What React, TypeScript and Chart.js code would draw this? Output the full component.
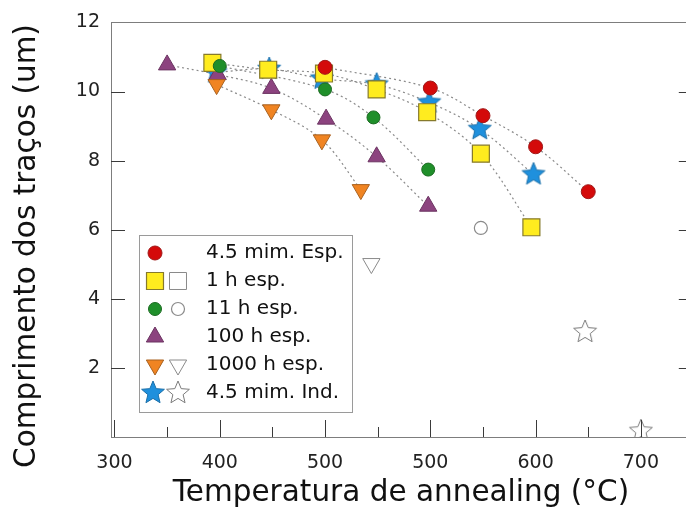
import React, { useEffect, useRef } from 'react';
import { Chart, registerables } from 'chart.js';
import { drawPoint } from 'chart.js/helpers';

Chart.register(...registerables);

const FONT = "'DejaVu Sans', 'Liberation Sans', sans-serif";

// ---- axis / tick labels ----
const X_TICK_VALUES = [300, 400, 500, 600, 700, 800];
const X_TICK_LABELS = ['300', '400', '500', '500', '600', '700'];
const X_MINOR_TICKS = [350, 450, 550, 650, 750];
const Y_TICK_VALUES = [2, 4, 6, 8, 10, 12];
const X_TITLE = 'Temperatura de annealing (°C)';
const Y_TITLE = 'Comprimento dos traços (um)';

// ---- legend labels ----
const LEGEND_LABELS = ['4.5 mim. Esp.', '1 h esp.', '11 h esp.', '100 h esp.', '1000 h esp.', '4.5 mim. Ind.'];

// ---- series data ----
const RED_X = [500, 600, 650, 700, 750];
const RED_Y = [10.7, 10.1, 9.3, 8.4, 7.1];

const YELLOW_X = [393, 446, 499, 549, 597, 648, 696];
const YELLOW_Y = [10.83, 10.63, 10.52, 10.06, 9.4, 8.2, 6.07];

const GREEN_X = [400, 500, 546, 598];
const GREEN_Y = [10.74, 10.06, 9.25, 7.74];
const GREEN_OPEN_X = [648];
const GREEN_OPEN_Y = [6.05];

const PURPLE_X = [350, 398, 449, 501, 549, 598];
const PURPLE_Y = [10.77, 10.49, 10.09, 9.2, 8.11, 6.68];

const ORANGE_X = [397, 449, 497, 534];
const ORANGE_Y = [10.2, 9.47, 8.6, 7.16];
const ORANGE_OPEN_X = [544];
const ORANGE_OPEN_Y = [5.02];

const BLUE_X = [396, 447, 497, 549, 599, 647, 698];
const BLUE_Y = [10.55, 10.65, 10.37, 10.2, 9.68, 8.91, 7.6];
const BLUE_OPEN_X = [747, 800];
const BLUE_OPEN_Y = [3.04, 0.17];

const zip = (xs: number[], ys: number[]) => xs.map((x, i) => ({ x, y: ys[i] }));

const AXIS_COLOR = '#7d7d7d';
const TICK_COLOR = '#3a3a3a';
const LINE_COLOR = '#8a8a8a';
const OPEN_COLOR = '#8a8a8a';

function makeStar(R: number, fill: string, stroke: string, lw: number): HTMLCanvasElement {
  const s = Math.ceil(2 * R + 4);
  const c = document.createElement('canvas');
  c.width = s;
  c.height = s;
  const g = c.getContext('2d')!;
  g.beginPath();
  for (let i = 0; i < 10; i++) {
    const rr = i % 2 === 0 ? R : R * 0.45;
    const a = -Math.PI / 2 + (i * Math.PI) / 5;
    const px = s / 2 + rr * Math.cos(a);
    const py = s / 2 + rr * Math.sin(a);
    if (i === 0) g.moveTo(px, py);
    else g.lineTo(px, py);
  }
  g.closePath();
  g.fillStyle = fill;
  g.fill();
  g.lineWidth = lw;
  g.strokeStyle = stroke;
  g.stroke();
  return c;
}

type MarkerStyle = {
  pointStyle: any;
  radius: number;
  fill: string;
  stroke: string;
  rotation: number;
  borderWidth: number;
};

export default function App() {
  const canvasRef = useRef<HTMLCanvasElement | null>(null);

  useEffect(() => {
    const canvas = canvasRef.current;
    if (!canvas) return;

    const starFilled = makeStar(12, '#1f90dd', '#1b6fa8', 1);
    const starOpen = makeStar(12, '#ffffff', '#7a7a7a', 1);

    const S: Record<string, MarkerStyle> = {
      red: { pointStyle: 'circle', radius: 7, fill: '#d40a0a', stroke: '#a01818', rotation: 0, borderWidth: 1 },
      yellow: { pointStyle: 'rect', radius: 12, fill: '#ffec1f', stroke: '#867a2c', rotation: 0, borderWidth: 1.2 },
      yellowOpen: { pointStyle: 'rect', radius: 12, fill: '#ffffff', stroke: OPEN_COLOR, rotation: 0, borderWidth: 1 },
      green: { pointStyle: 'circle', radius: 6.5, fill: '#1f8f2a', stroke: '#1c6b22', rotation: 0, borderWidth: 1 },
      greenOpen: { pointStyle: 'circle', radius: 6.5, fill: '#ffffff', stroke: OPEN_COLOR, rotation: 0, borderWidth: 1.2 },
      purple: { pointStyle: 'triangle', radius: 10, fill: '#8c437f', stroke: '#6b3361', rotation: 0, borderWidth: 1 },
      orange: { pointStyle: 'triangle', radius: 10, fill: '#f08422', stroke: '#a8611f', rotation: 180, borderWidth: 1 },
      orangeOpen: { pointStyle: 'triangle', radius: 10, fill: '#ffffff', stroke: OPEN_COLOR, rotation: 180, borderWidth: 1 },
      blue: { pointStyle: starFilled, radius: 12, fill: '#1f90dd', stroke: '#1b6fa8', rotation: 0, borderWidth: 1 },
      blueOpen: { pointStyle: starOpen, radius: 12, fill: '#ffffff', stroke: OPEN_COLOR, rotation: 0, borderWidth: 1 },
    };

    const pointDs = (label: string, xs: number[], ys: number[], st: MarkerStyle, order: number) => ({
      label,
      data: zip(xs, ys),
      showLine: false,
      pointStyle: st.pointStyle,
      pointRadius: st.radius,
      pointHoverRadius: st.radius,
      pointRotation: st.rotation,
      pointBackgroundColor: st.fill,
      pointBorderColor: st.stroke,
      pointBorderWidth: st.borderWidth,
      backgroundColor: st.fill,
      borderColor: st.stroke,
      order,
    });

    const lineDs = (label: string, xs: number[], ys: number[]) => ({
      label,
      data: zip(xs, ys),
      showLine: true,
      pointRadius: 0,
      borderColor: LINE_COLOR,
      borderWidth: 1.2,
      borderDash: [2, 3],
      tension: 0.35,
      fill: false,
      order: 50,
    });

    const datasets: any[] = [
      lineDs('fit red', RED_X, RED_Y),
      lineDs('fit yellow', YELLOW_X, YELLOW_Y),
      lineDs('fit green', GREEN_X, GREEN_Y),
      lineDs('fit purple', PURPLE_X, PURPLE_Y),
      lineDs('fit orange', ORANGE_X, ORANGE_Y),
      lineDs('fit blue', BLUE_X, BLUE_Y),
      pointDs(LEGEND_LABELS[5], BLUE_X, BLUE_Y, S.blue, 16),
      pointDs(LEGEND_LABELS[5] + ' (open)', BLUE_OPEN_X, BLUE_OPEN_Y, S.blueOpen, 16),
      pointDs(LEGEND_LABELS[3], PURPLE_X, PURPLE_Y, S.purple, 15),
      pointDs(LEGEND_LABELS[4], ORANGE_X, ORANGE_Y, S.orange, 14),
      pointDs(LEGEND_LABELS[4] + ' (open)', ORANGE_OPEN_X, ORANGE_OPEN_Y, S.orangeOpen, 14),
      pointDs(LEGEND_LABELS[1], YELLOW_X, YELLOW_Y, S.yellow, 13),
      pointDs(LEGEND_LABELS[2], GREEN_X, GREEN_Y, S.green, 12),
      pointDs(LEGEND_LABELS[2] + ' (open)', GREEN_OPEN_X, GREEN_OPEN_Y, S.greenOpen, 12),
      pointDs(LEGEND_LABELS[0], RED_X, RED_Y, S.red, 11),
    ];

    const legendEntries: { label: string; filled: MarkerStyle; open: MarkerStyle | null; fx: number }[] = [
      { label: LEGEND_LABELS[0], filled: S.red, open: null, fx: 155 },
      { label: LEGEND_LABELS[1], filled: S.yellow, open: S.yellowOpen, fx: 155 },
      { label: LEGEND_LABELS[2], filled: S.green, open: S.greenOpen, fx: 155 },
      { label: LEGEND_LABELS[3], filled: S.purple, open: null, fx: 155 },
      { label: LEGEND_LABELS[4], filled: S.orange, open: S.orangeOpen, fx: 155 },
      { label: LEGEND_LABELS[5], filled: S.blue, open: S.blueOpen, fx: 153 },
    ];

    const drawMarker = (ctx: CanvasRenderingContext2D, st: MarkerStyle, x: number, y: number) => {
      ctx.save();
      ctx.fillStyle = st.fill;
      ctx.strokeStyle = st.stroke;
      ctx.lineWidth = st.borderWidth;
      drawPoint(ctx, { pointStyle: st.pointStyle, rotation: st.rotation, radius: st.radius, borderWidth: st.borderWidth } as any, x, y);
      ctx.restore();
    };

    const framePlugin = {
      id: 'frame',
      afterDatasetsDraw(chart: any) {
        const { ctx, chartArea } = chart;
        const xs = chart.scales.x;
        const ys = chart.scales.y;
        ctx.save();
        // top border (right border lies outside the visible window)
        ctx.strokeStyle = AXIS_COLOR;
        ctx.lineWidth = 1;
        ctx.beginPath();
        ctx.moveTo(chartArea.left, Math.round(chartArea.top) + 0.5);
        ctx.lineTo(chartArea.right + 20, Math.round(chartArea.top) + 0.5);
        ctx.stroke();
        // inward ticks
        ctx.strokeStyle = TICK_COLOR;
        ctx.beginPath();
        const b = chartArea.bottom;
        X_TICK_VALUES.forEach((v) => {
          if (v <= xs.min) return;
          const px = Math.round(xs.getPixelForValue(v)) + 0.5;
          ctx.moveTo(px, b);
          ctx.lineTo(px, b - 17);
        });
        X_MINOR_TICKS.forEach((v) => {
          const px = Math.round(xs.getPixelForValue(v)) + 0.5;
          ctx.moveTo(px, b);
          ctx.lineTo(px, b - 10);
        });
        Y_TICK_VALUES.forEach((v) => {
          if (v >= ys.max) return;
          const py = Math.round(ys.getPixelForValue(v)) + 0.5;
          ctx.moveTo(chartArea.left, py);
          ctx.lineTo(chartArea.left + 14, py);
          ctx.moveTo(chartArea.right + 6, py);
          ctx.lineTo(chartArea.right - 8, py);
        });
        ctx.stroke();
        ctx.restore();
      },
      afterDraw(chart: any) {
        const { ctx, chartArea } = chart;
        ctx.save();
        // axis titles
        ctx.fillStyle = '#111';
        ctx.font = `29.5px ${FONT}`;
        ctx.textAlign = 'center';
        ctx.textBaseline = 'middle';
        ctx.fillText(X_TITLE, 401, 493);
        ctx.save();
        ctx.translate(27, 246);
        ctx.rotate(-Math.PI / 2);
        ctx.fillText(Y_TITLE, 0, 0);
        ctx.restore();

        // legend box
        ctx.fillStyle = '#ffffff';
        ctx.fillRect(139.5, 235.5, 213, 177);
        ctx.strokeStyle = '#9a9a9a';
        ctx.lineWidth = 1;
        ctx.strokeRect(139.5, 235.5, 213, 177);
        legendEntries.forEach((e, i) => {
          const y = 253 + i * 28;
          drawMarker(ctx, e.filled, e.fx, y);
          if (e.open) drawMarker(ctx, e.open, 178, y);
          ctx.fillStyle = '#111';
          ctx.font = `20px ${FONT}`;
          ctx.textAlign = 'left';
          ctx.textBaseline = 'middle';
          ctx.fillText(e.label, 206, y);
        });
        ctx.restore();
      },
    };

    const chart = new Chart(canvas, {
      type: 'scatter',
      data: { datasets },
      options: {
        animation: false,
        responsive: false,
        devicePixelRatio: 1,
        layout: { padding: { top: 18, right: 8, left: 0, bottom: 0 } },
        plugins: { legend: { display: false }, tooltip: { enabled: false } },
        scales: {
          x: {
            type: 'linear',
            min: 296.7,
            max: 843.6,
            afterBuildTicks: (s: any) => {
              s.ticks = X_TICK_VALUES.map((v) => ({ value: v }));
            },
            afterFit: (s: any) => {
              s.height = 78;
            },
            grid: { display: false, drawTicks: false },
            border: { display: true, color: AXIS_COLOR, width: 1 },
            ticks: {
              autoSkip: false,
              maxRotation: 0,
              padding: 15,
              color: '#222',
              font: { family: FONT, size: 19 },
              callback: (v: any) => {
                const i = X_TICK_VALUES.indexOf(Number(v));
                return i >= 0 ? X_TICK_LABELS[i] : '';
              },
            },
          },
          y: {
            type: 'linear',
            min: 0,
            max: 12,
            afterBuildTicks: (s: any) => {
              s.ticks = Y_TICK_VALUES.map((v) => ({ value: v }));
            },
            afterFit: (s: any) => {
              s.width = 111;
            },
            grid: { display: false, drawTicks: false },
            border: { display: true, color: AXIS_COLOR, width: 1 },
            ticks: {
              padding: 11,
              color: '#222',
              font: { family: FONT, size: 19 },
              callback: (v: any) => String(v),
            },
          },
        },
      },
      plugins: [framePlugin],
    } as any);

    return () => chart.destroy();
  }, []);

  return (
    <div style={{ position: 'absolute', left: 0, top: 0, width: 686, height: 515, overflow: 'hidden', background: '#fff' }}>
      <canvas ref={canvasRef} width={700} height={515} style={{ display: 'block', width: 700, height: 515 }} />
    </div>
  );
}
